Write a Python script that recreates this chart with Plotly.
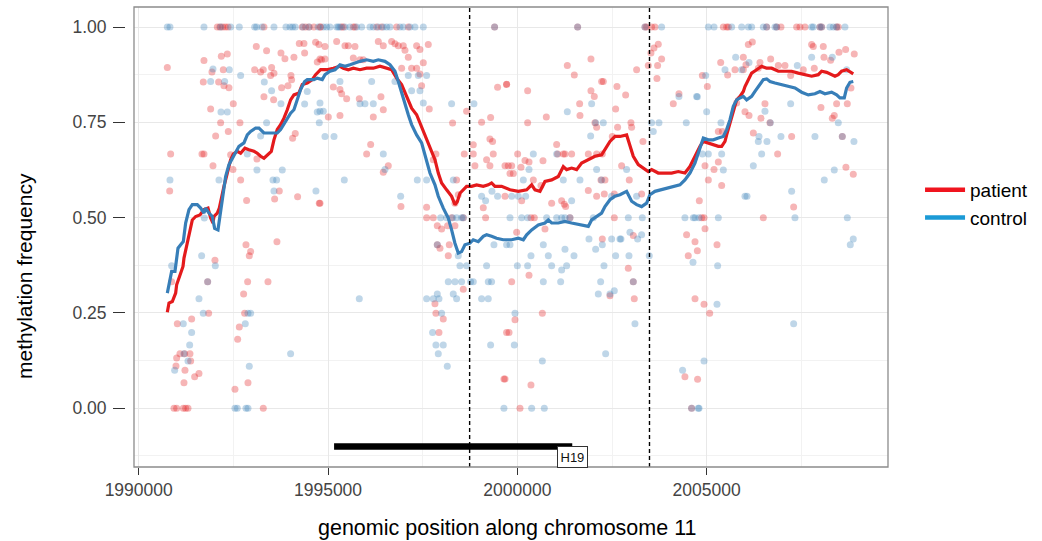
import plotly.graph_objects as go

# ---------------- data ----------------
patient_points = [
    (1992076,1.0),(1992146,1.0),(1992217,1.0),(1992287,1.0),(1992358,1.0),(1993308,1.0),(1994320,1.0),(1994408,1.0),(1994500,1.0),(1994628,1.0),(1994804,1.0),
    (1990756,0.894),(1991724,0.912),(1992182,0.923),(1992340,0.929),(1993106,0.949),(1993378,0.938),(1993757,0.932),(1993862,0.917),(1994100,0.921),(1994241,0.957),(1994364,0.957),(1994382,0.932),(1994672,0.960),(1994760,0.954),(1994716,0.908),(1994830,0.914),
    (1991935,0.882),(1992234,0.888),(1993062,0.888),(1993220,0.882),(1993290,0.888),(1993510,0.894),(1993572,0.879),(1993484,0.873),(1994021,0.873),(1994038,0.862),
    (1991706,0.856),(1992111,0.856),(1992252,0.846),(1992384,0.841),(1993774,0.841),(1993942,0.846),(1993308,0.817),(1993563,0.809),(1992498,0.799),(1991900,0.785),
    (1992164,0.749),(1992674,0.749),(1992366,0.726),(1992032,0.714),(1994065,0.708),(1994135,0.721),
    (1990844,0.667),(1991671,0.667),(1991724,0.667),(1991962,0.636),(1992428,0.665),(1992490,0.626),(1992692,0.599),(1993123,0.654),
    (1990818,0.570),(1993713,0.570),(1993590,0.549),(1992850,0.545),(1994197,0.555),(1994769,0.538),
    (1993651,0.437),(1992833,0.429),(1992956,0.411),(1992921,0.400),(1992014,0.388),
    (1990870,0.332),(1991821,0.332),(1992877,0.332),(1993414,0.332),(1992771,0.300),
    (1991847,0.249),(1992798,0.249),(1991398,0.234),(1991020,0.222),(1992657,0.213),(1992613,0.181),
    (1991090,0.143),(1991214,0.143),(1991354,0.143),(1991002,0.132),(1991372,0.124),(1990985,0.111),(1991222,0.100),(1991592,0.091),(1991478,0.083),(1991196,0.067),(1992886,0.067),(1992542,0.050),
    (1990932,0.0),(1991002,0.0),(1991178,0.0),(1991240,0.0),(1991302,0.0),(1993290,0.0),
    (1994788,1.0),(1995360,1.0),(1995404,1.0),(1995668,1.0),(1995712,1.0),(1996284,1.0),(1996416,1.0),(1996812,1.0),(1997120,1.0),(1999399,1.0),
    (1995228,0.962),(1995448,0.951),(1995536,0.951),(1995712,0.949),(1994920,0.949),(1996328,0.962),(1996460,0.951),(1996680,0.962),(1996768,0.956),(1996856,0.951),(1996988,0.951),(1997032,0.939),(1997340,0.951),(1997428,0.941),(1997648,0.954),
    (1994788,0.916),(1994920,0.916),(1995668,0.919),(1995844,0.914),(1995932,0.914),(1997120,0.921),(1996944,0.892),(1997208,0.892),(1997516,0.906),(1997340,0.892),(1997428,0.877),
    (1995140,0.843),(1995316,0.836),(1995360,0.825),(1995492,0.812),(1995826,0.812),(1996398,0.817),(1996460,0.783),(1996196,0.764),(1995316,0.768),(1995008,0.764),(1997472,0.846),(1997674,0.785),
    (1996126,0.692),(1996020,0.667),(1996592,0.636),(1996460,0.619),(1994788,0.538),(1996926,0.529),(1997604,0.527),(1997604,0.500),(1997780,0.500),(1997850,0.667),(1997780,0.652),
    (1997886,0.479),(1998000,0.470),(1998158,0.479),(1997886,0.429),(1997956,0.420),(1998202,0.429),(1998176,0.400),
    (1998290,0.748),(1998396,0.599),(1998440,0.560),(1998352,0.538),(1998264,0.500),(1998352,0.479),(1998572,0.500),(1998572,0.312),(1997824,0.274),(1997850,0.249),(1998044,0.234),(1997930,0.199),
    (1998598,0.667),(1998660,0.779),(1998836,0.691),(1998880,0.636),(1998836,0.667),(1999056,0.750),(1999294,0.763),(1999276,0.706),(1999346,0.700),(1999364,0.667),(1999188,0.652),(1999276,0.636),(1999100,0.526),(1999162,0.500),
    (1999478,0.842),(1999716,0.849),(1999760,0.636),(1999716,0.199),(1999646,0.077),
    (2001592,1.0),(2003370,1.0),(2003414,1.0),(2003546,1.0),(2003634,1.0),
    (2001320,0.899),(2001504,0.874),(2001944,0.916),(2002226,0.857),(2002270,0.857),(2002631,0.844),(2002860,0.822),(2001944,0.833),(2002032,0.818),(2003150,0.888),(2003458,0.899),(2003528,0.932),(2003608,0.945),(2003722,0.955),(2003810,0.916),(2003704,0.899),(2003687,0.865),
    (1999718,0.850),(2000272,0.833),(2001645,0.799),(2001654,0.768),(2002596,0.785),(2000765,0.764),(2000272,0.749),(2002050,0.749),(2002094,0.737),(2002648,0.737),(2003000,0.749),(2003018,0.737),(2002508,0.713),(2003317,0.700),
    (2001038,0.692),(2001064,0.667),(2001214,0.667),(2001258,0.667),(2001434,0.667),(2001874,0.667),(2002094,0.667),(2002244,0.667),(2000008,0.667),(2000202,0.650),(2000308,0.646),(1999674,0.636),(1999850,0.636),(1999806,0.616),(1999894,0.616),(2000096,0.632),(2000422,0.599),(2000677,0.649),
    (2000114,0.544),(1999674,0.556),(2000906,0.538),(2001170,0.544),(2001276,0.529),(2001240,0.535),(2001874,0.571),(2002094,0.556),(2002296,0.562),(2003282,0.562),(2002560,0.562),(2002754,0.636),(2002956,0.599),(2002314,0.599),(2002208,0.599),(2000624,0.584),
    (2000360,0.5),(2000448,0.5),(2000730,0.470),(2001390,0.5),(2002560,0.5),(1999982,0.462),(2002244,0.444),(2003062,0.453),(2002930,0.367),(2000308,0.349),(1999850,0.332),(2003062,0.332),(2003088,0.287),(2002446,0.295),
    (2000660,0.249),(1999938,0.232),(1999780,0.199),(1999674,0.077),(2000360,0.061),(2000070,0.0),
    (2004426,0.083),(2004760,0.076),(2004470,0.455),(2004514,0.400),(2004118,0.799),(2004268,0.825),(2004602,0.0),
    (2005440,1.0),(2005528,1.0),(2005572,1.0),(2006584,1.0),(2006848,1.0),(2006962,1.0),(2007376,1.0),(2007464,1.0),(2007596,1.0),(2007992,1.0),(2008036,1.0),(2008432,1.0),(2008476,1.0),
    (2005370,0.907),(2005554,0.874),(2005748,0.888),(2005968,0.921),(2005968,0.888),(2006100,0.954),(2006206,0.961),(2006038,0.901),(2006364,0.892),(2006408,0.907),(2006690,0.916),(2006892,0.899),(2007068,0.899),(2007218,0.873),(2007552,0.888),(2007772,0.954),(2007816,0.949),(2008080,0.949),(2008098,0.921),(2008274,0.913),(2008494,0.934),(2008670,0.941),(2008898,0.929),(2007842,0.892),
    (2004886,0.873),(2005018,0.844),(2005792,0.801),(2006012,0.778),(2006118,0.768),(2006434,0.761),(2006540,0.799),(2006672,0.749),(2005308,0.726),(2005414,0.726),(2006232,0.722),(2006874,0.667),(2007244,0.713),
    (2004956,0.636),(2005194,0.626),(2005308,0.646),(2005044,0.599),(2005396,0.584),(2004806,0.544),(2004868,0.5),(2004930,0.5),(2006496,0.5),(2007297,0.528),(2004956,0.471),
    (2008018,0.789),(2008318,0.761),(2008370,0.768),(2008432,0.799),(2008714,0.799),(2008810,0.840),(2008582,0.713),(2008678,0.632),(2008872,0.614),
    (2004692,0.437),(2004754,0.413),(2005273,0.429),(2004692,0.287),(2004930,0.273),(2005079,0.249),
]

control_points = [
    (1990756,1.0),(1990826,1.0),(1991724,1.0),(1992164,1.0),(1992428,1.0),(1992657,1.0),(1993062,1.0),(1993114,1.0),(1993256,1.0),(1993572,1.0),(1993889,1.0),(1993996,1.0),(1994065,1.0),(1994135,1.0),(1994340,1.0),(1994496,1.0),(1994740,1.0),
    (1991962,0.890),(1992393,0.888),(1991900,0.857),(1992270,0.857),(1992692,0.873),(1993317,0.856),(1993510,0.833),(1993757,0.799),(1994382,0.798),(1994452,0.831),(1992173,0.777),(1992340,0.777),(1993378,0.749),(1994769,0.749),(1994716,0.777),(1993220,0.714),(1992868,0.667),(1992120,0.599),(1990826,0.599),(1993123,0.625),(1993792,0.625),(1993546,0.599),(1993642,0.599),(1993572,0.570),(1994681,0.570),(1991733,0.499),(1991662,0.400),(1992023,0.374),(1990870,0.374),(1991821,0.332),(1991592,0.287),(1991706,0.249),(1992886,0.249),(1992956,0.249),(1991178,0.222),(1992815,0.222),(1991398,0.199),(1991346,0.166),(1991196,0.143),(1991302,0.124),(1990950,0.100),(1992921,0.110),(1994012,0.143),
    (1992542,0.0),(1992604,0.0),(1992833,0.0),(1992886,0.0),
    (1994876,1.0),(1994964,1.0),(1995052,1.0),(1995228,1.0),(1995272,1.0),(1995316,1.0),(1995448,1.0),(1995580,1.0),(1995756,1.0),(1995888,1.0),(1996108,1.0),(1996196,1.0),(1996328,1.0),(1996460,1.0),(1996548,1.0),(1996636,1.0),(1996900,1.0),(1996988,1.0),(1997164,1.0),(1997296,1.0),(1997516,1.0),(1999399,1.0),
    (1995316,0.857),(1996152,0.857),(1994788,0.801),(1996768,0.857),(1997208,0.833),(1997428,0.833),(1997604,0.873),(1997384,0.873),(1997516,0.801),(1997120,0.873),(1995844,0.799),(1995976,0.799),(1996196,0.799),(1994788,0.779),(1994876,0.779),(1994920,0.713),(1995158,0.713),(1996460,0.667),(1996504,0.626),(1995430,0.599),(1997358,0.599),(1997604,0.599),(1996918,0.556),
    (1998264,0.799),(1998854,0.799),(1998308,0.599),
    (1997974,0.5),(1998132,0.5),(1998290,0.5),(1998396,0.5),(1998528,0.5),(1998572,0.5),
    (1999056,0.556),(1999162,0.544),(1999329,0.569),(1999478,0.556),(1999382,0.429),(1999716,0.429),(1997886,0.429),
    (1998440,0.400),(1998484,0.374),(1998660,0.374),(1999188,0.374),
    (1998176,0.332),(1998352,0.332),(1998528,0.332),(1998766,0.332),(1998836,0.332),(1999232,0.332),(1999320,0.332),
    (1995826,0.287),(1997604,0.287),(1997780,0.287),(1997886,0.300),(1997930,0.287),(1998308,0.300),(1998396,0.287),(1999056,0.287),(1999232,0.287),
    (1998000,0.249),(1997762,0.199),(1997850,0.166),(1998044,0.166),(1997912,0.143),(1998150,0.110),(1999294,0.166),(1999646,0.0),
    (2001592,1.0),(2003370,1.0),(2003810,1.0),
    (2001962,0.799),(2001320,0.778),(2002270,0.749),(2002068,0.749),(2001936,0.714),(2003590,0.726),(2003546,0.749),(2003740,0.749),(2004461,0.749),(2004734,0.818),(2004268,0.818),
    (2000422,0.667),(2001038,0.667),(2000308,0.626),(2002094,0.626),(2002886,0.626),(2000158,0.599),(2001214,0.599),(2001654,0.599),(2002226,0.599),
    (1999850,0.556),(2000026,0.556),(2000220,0.556),(2001434,0.544),(2002490,0.556),(2003150,0.556),
    (1999806,0.5),(2000114,0.5),(2000272,0.5),(2000774,0.5),(2001038,0.5),(2001170,0.5),(2001258,0.5),(2001390,0.5),(2002006,0.5),(2002930,0.5),(2003300,0.5),(2004426,0.5),(2004646,0.5),
    (2001892,0.444),(2002068,0.417),(2002244,0.429),(2002490,0.444),(2002736,0.444),(2002974,0.462),(2003176,0.444),(2003282,0.455),(2002710,0.444),
    (1999806,0.429),(2000686,0.429),(2001258,0.417),
    (2000360,0.400),(2000818,0.400),(2001496,0.400),(2002596,0.400),(2002948,0.400),(2003484,0.400),
    (2000000,0.374),(2000272,0.374),(2000906,0.374),(2001302,0.374),(2001170,0.363),(2002288,0.374),
    (2001144,0.332),(2002200,0.332),(2000686,0.332),(2003062,0.332),(2002138,0.300),(2002446,0.300),(2002560,0.308),
    (1999938,0.249),(2003106,0.222),(1999920,0.166),(2002332,0.143),(2000660,0.124),(2004364,0.100),
    (2000378,0.0),(2000712,0.0),(2004602,0.0),(2004778,0.0),
    (2005044,1.0),(2005194,1.0),(2005660,1.0),(2005924,1.0),(2006100,1.0),(2006188,1.0),(2006496,1.0),(2006584,1.0),(2006804,1.0),(2006848,1.0),(2007772,1.0),(2007816,1.0),(2007992,1.0),(2008036,1.0),(2008256,1.0),(2008344,1.0),(2008432,1.0),(2008652,1.0),
    (2005484,0.888),(2005766,0.921),(2005924,0.888),(2006118,0.907),(2004974,0.873),(2004754,0.817),(2005000,0.778),(2007394,0.899),(2007772,0.921),(2008318,0.921),(2008696,0.888),
    (2006540,0.779),(2006681,0.749),(2006382,0.713),(2006364,0.700),(2006593,0.700),(2006452,0.667),(2006962,0.713),(2007218,0.799),(2007860,0.713),(2008476,0.749),(2008582,0.713),(2008890,0.700),
    (2005378,0.749),(2004886,0.667),(2005044,0.667),(2005396,0.667),(2005440,0.625),(2006232,0.636),(2006012,0.556),(2006065,0.556),(2007244,0.569),(2008106,0.599),(2008370,0.625),
    (2004692,0.5),(2004798,0.5),(2005308,0.5),(2007332,0.5),(2008714,0.5),
    (2008872,0.444),(2008793,0.429),(2004639,0.383),(2005290,0.374),(2005273,0.273),(2007297,0.222),(2004930,0.124),(2004798,0.0),
]

patient_smooth = [
    (1990756,0.252),(1990800,0.276),(1990888,0.280),(1990976,0.302),(1991002,0.324),(1991108,0.354),(1991170,0.372),(1991196,0.394),(1991266,0.424),(1991328,0.459),(1991416,0.494),(1991504,0.503),(1991618,0.507),(1991724,0.521),(1991830,0.525),(1991900,0.499),(1991962,0.486),(1991988,0.503),(1992076,0.512),(1992129,0.525),(1992182,0.551),(1992252,0.582),(1992340,0.617),(1992428,0.652),(1992498,0.667),(1992604,0.674),(1992692,0.669),(1992806,0.682),(1992912,0.678),(1993044,0.674),(1993132,0.669),(1993220,0.661),(1993308,0.656),(1993396,0.665),(1993502,0.674),(1993572,0.704),(1993660,0.731),(1993748,0.744),(1993836,0.761),(1993924,0.783),(1994012,0.809),(1994100,0.822),(1994232,0.827),(1994320,0.849),(1994452,0.853),(1994584,0.862),(1994672,0.875),(1994804,0.888),
    (1994964,0.888),(1995140,0.892),(1995316,0.897),(1995404,0.892),(1995536,0.888),(1995668,0.892),(1995844,0.888),(1996020,0.892),(1996196,0.892),(1996372,0.897),(1996548,0.892),(1996680,0.888),(1996812,0.866),(1996944,0.849),(1997076,0.818),(1997208,0.787),(1997340,0.770),(1997472,0.739),(1997560,0.713),(1997692,0.687),(1997824,0.652),(1997912,0.617),(1998000,0.591),(1998132,0.573),(1998264,0.556),(1998352,0.534),(1998414,0.542),(1998484,0.564),(1998572,0.573),(1998660,0.582),(1998792,0.582),(1998924,0.586),(1999100,0.582),(1999232,0.586),(1999320,0.591),(1999408,0.582),(1999584,0.582),
    (1999806,0.573),(2000026,0.569),(2000246,0.573),(2000378,0.586),(2000466,0.573),(2000598,0.569),(2000730,0.595),(2000906,0.599),(2001082,0.608),(2001214,0.634),(2001302,0.626),(2001434,0.630),(2001566,0.626),(2001698,0.643),(2001874,0.652),(2002050,0.661),(2002226,0.665),(2002314,0.678),(2002446,0.700),(2002578,0.713),(2002710,0.713),(2002886,0.717),(2002974,0.687),(2003062,0.661),(2003194,0.639),(2003326,0.630),(2003458,0.621),(2003546,0.626),(2003722,0.617),(2003898,0.617),(2004074,0.617),(2004250,0.621),(2004426,0.617),(2004558,0.634),(2004690,0.661),
    (2004824,0.687),(2004912,0.700),(2005044,0.696),(2005176,0.691),(2005308,0.687),(2005396,0.687),(2005484,0.700),(2005528,0.717),(2005616,0.748),(2005704,0.779),(2005792,0.809),(2005880,0.818),(2005968,0.831),(2006012,0.844),(2006100,0.862),(2006188,0.879),(2006320,0.888),(2006452,0.897),(2006584,0.892),(2006716,0.892),(2006892,0.884),(2007068,0.884),(2007244,0.884),(2007420,0.879),(2007596,0.875),(2007772,0.871),(2007948,0.875),(2008036,0.884),(2008168,0.881),(2008300,0.875),(2008388,0.871),(2008476,0.875),(2008564,0.884),(2008696,0.888),(2008828,0.879),(2008872,0.877),
]

control_smooth = [
    (1990756,0.302),(1990826,0.337),(1990870,0.359),(1990958,0.359),(1990994,0.381),(1991038,0.420),(1991108,0.429),(1991178,0.437),(1991240,0.486),(1991328,0.521),(1991416,0.534),(1991548,0.534),(1991636,0.525),(1991724,0.512),(1991768,0.525),(1991856,0.512),(1991944,0.503),(1992006,0.472),(1992094,0.468),(1992146,0.503),(1992208,0.556),(1992296,0.608),(1992384,0.639),(1992516,0.665),(1992648,0.687),(1992780,0.696),(1992868,0.717),(1992956,0.726),(1993088,0.735),(1993176,0.735),(1993308,0.722),(1993484,0.722),(1993660,0.722),(1993748,0.731),(1993880,0.752),(1994012,0.774),(1994100,0.783),(1994188,0.809),(1994276,0.836),(1994382,0.857),(1994452,0.862),(1994628,0.862),(1994716,0.866),(1994848,0.862),
    (1994920,0.875),(1995052,0.884),(1995184,0.888),(1995316,0.901),(1995448,0.897),(1995580,0.901),(1995712,0.906),(1995844,0.910),(1996020,0.914),(1996196,0.910),(1996328,0.914),(1996504,0.910),(1996636,0.901),(1996768,0.884),(1996856,0.857),(1996944,0.827),(1997032,0.796),(1997120,0.770),(1997208,0.744),(1997340,0.717),(1997472,0.696),(1997560,0.661),(1997692,0.617),(1997824,0.586),(1997912,0.556),(1998044,0.525),(1998176,0.499),(1998264,0.468),(1998352,0.433),(1998440,0.407),(1998528,0.411),(1998616,0.429),(1998748,0.433),(1998836,0.442),(1998968,0.437),(1999100,0.451),(1999188,0.455),(1999320,0.451),(1999452,0.446),(1999628,0.442),
    (1999850,0.442),(2000026,0.446),(2000158,0.442),(2000246,0.455),(2000378,0.468),(2000554,0.481),(2000730,0.486),(2000818,0.494),(2000906,0.486),(2001082,0.486),(2001258,0.490),(2001434,0.486),(2001698,0.481),(2001874,0.477),(2001962,0.494),(2002094,0.503),(2002226,0.512),(2002314,0.529),(2002446,0.547),(2002578,0.556),(2002710,0.560),(2002886,0.569),(2003018,0.543),(2003150,0.534),(2003282,0.529),(2003414,0.538),(2003502,0.560),(2003634,0.569),(2003810,0.573),(2003986,0.577),(2004162,0.582),(2004294,0.586),(2004426,0.599),(2004558,0.617),(2004690,0.643),
    (2004824,0.687),(2004912,0.709),(2005044,0.704),(2005176,0.704),(2005308,0.709),(2005440,0.713),(2005528,0.731),(2005616,0.757),(2005704,0.792),(2005792,0.809),(2005880,0.814),(2005968,0.818),(2006056,0.809),(2006188,0.818),(2006276,0.831),(2006408,0.849),(2006496,0.862),(2006584,0.864),(2006672,0.857),(2006804,0.853),(2006980,0.849),(2007112,0.844),(2007244,0.843),(2007332,0.840),(2007508,0.829),(2007684,0.822),(2007860,0.825),(2007992,0.831),(2008124,0.825),(2008300,0.829),(2008432,0.822),(2008520,0.814),(2008634,0.814),(2008696,0.840),(2008784,0.855),(2008872,0.857),
]

region_boundaries = [1998740, 2003490]
gene_name = "H19"
gene_start, gene_end, gene_level = 1995160, 2001450, -0.10

x_ticks = [1990000, 1995000, 2000000, 2005000]
x_minor = [1992500, 1997500, 2002500, 2007500]
y_ticks = [0.0, 0.25, 0.50, 0.75, 1.00]
y_minor = [-0.125, 0.125, 0.375, 0.625, 0.875]
x_range = [1989876, 2009789]
y_range = [-0.154, 1.0525]

series_names = ["patient", "control"]
line_colors = ["#E41A1C", "#377EB8"]
legend_colors = ["#F0141E", "#1B9AD6"]

FONT = "Liberation Sans, Arial, Helvetica, sans-serif"

# ---------------- figure ----------------
fig = go.Figure()

for pts, col in [(patient_points, line_colors[0]), (control_points, line_colors[1])]:
    fig.add_trace(go.Scatter(
        x=[p[0] for p in pts], y=[p[1] for p in pts], mode="markers",
        marker=dict(color=col, size=7, opacity=0.32, line=dict(width=0)),
        showlegend=False, hoverinfo="skip"))

for pts, col in [(patient_smooth, line_colors[0]), (control_smooth, line_colors[1])]:
    fig.add_trace(go.Scatter(
        x=[p[0] for p in pts], y=[p[1] for p in pts], mode="lines",
        line=dict(color=col, width=3.2), showlegend=False, hoverinfo="skip"))

# gene bar
fig.add_trace(go.Scatter(x=[gene_start, gene_end], y=[gene_level, gene_level], mode="lines",
                         line=dict(color="black", width=6.5), showlegend=False, hoverinfo="skip"))

# legend entries
for name, col in zip(series_names, legend_colors):
    fig.add_trace(go.Scatter(x=[None], y=[None], mode="lines", name=name,
                             line=dict(color=col, width=4.5)))

for xb in region_boundaries:
    fig.add_shape(type="line", xref="x", yref="y domain", x0=xb, x1=xb, y0=0, y1=1,
                  line=dict(color="black", width=1.4, dash="4px,3px"), layer="above")

# panel border
fig.add_shape(type="rect", xref="x domain", yref="y domain", x0=0, x1=1, y0=0, y1=1,
              line=dict(color="#8C8C8C", width=1.3), layer="above")

fig.add_annotation(x=gene_end, y=gene_level, xref="x", yref="y", text=gene_name,
                   showarrow=False, xanchor="center", yanchor="top",
                   font=dict(family=FONT, size=13, color="#111"),
                   bgcolor="white", bordercolor="#333", borderwidth=1, borderpad=2.5)

fig.add_annotation(x=0.4947, y=-0.1326, xref="x domain", yref="paper",
                   text="genomic position along chromosome 11", showarrow=False,
                   xanchor="center", yanchor="middle",
                   font=dict(family=FONT, size=21.5, color="black"))
fig.add_annotation(x=-0.1324, y=0.4152, xref="paper", yref="paper",
                   text="methylation frequency", showarrow=False, textangle=-90,
                   xanchor="center", yanchor="middle",
                   font=dict(family=FONT, size=21, color="black"))

fig.update_xaxes(
    range=x_range, domain=[9/763, 1], anchor="y",
    tickmode="array", tickvals=x_ticks, ticktext=[str(v) for v in x_ticks],
    ticks="outside", ticklen=7, tickwidth=1.2, tickcolor="#333",
    tickfont=dict(family=FONT, size=17.5, color="#444"),
    showgrid=True, gridcolor="#E8E8E8", gridwidth=1,
    minor=dict(tickmode="array", tickvals=x_minor, showgrid=True, gridcolor="#F2F2F2", gridwidth=1, ticks=""),
    zeroline=False, showline=False)

fig.update_yaxes(
    range=y_range, anchor="free", position=0,
    tickmode="array", tickvals=y_ticks, ticktext=["%.2f" % v for v in y_ticks],
    ticks="outside", ticklen=12, tickwidth=1.2, tickcolor="#333",
    tickfont=dict(family=FONT, size=17.5, color="#444"),
    ticklabelstandoff=3,
    showgrid=True, gridcolor="#E8E8E8", gridwidth=1,
    minor=dict(tickmode="array", tickvals=y_minor, showgrid=True, gridcolor="#F2F2F2", gridwidth=1, ticks=""),
    zeroline=False, showline=False)

fig.update_layout(
    width=1042, height=541, autosize=False,
    margin=dict(l=125, r=154, t=7, b=74),
    plot_bgcolor="white", paper_bgcolor="white",
    font=dict(family=FONT),
    legend=dict(x=1.042, y=0.572, xanchor="left", yanchor="middle",
                font=dict(family=FONT, size=19, color="black"),
                itemwidth=40,
                bgcolor="rgba(0,0,0,0)", borderwidth=0),
)

fig.write_html("out.html", config={"displayModeBar": False},
               post_script="document.body.style.margin='0';")
